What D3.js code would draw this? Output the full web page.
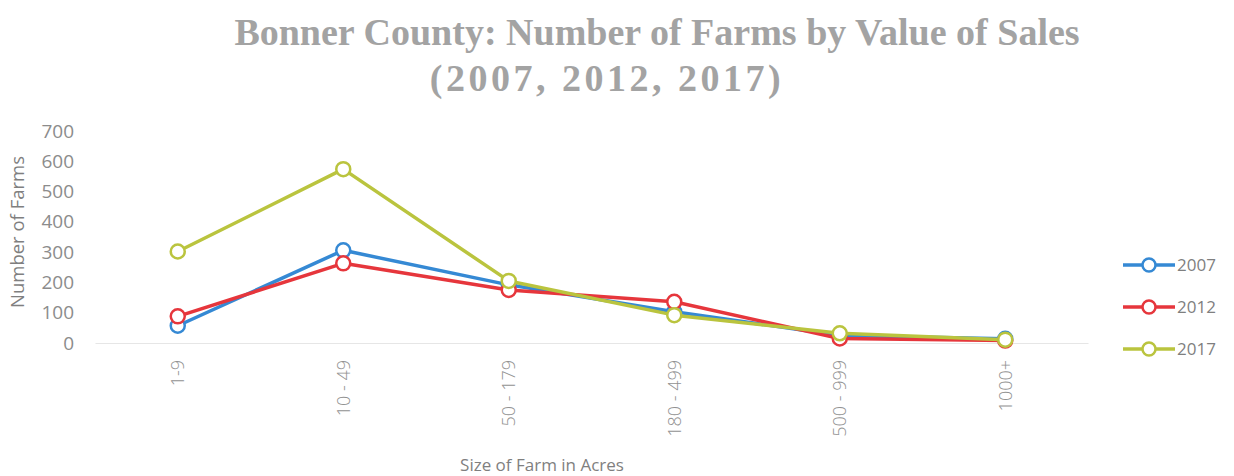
<!DOCTYPE html>
<html>
<head>
<meta charset="utf-8">
<script src="https://cdn.jsdelivr.net/npm/d3@7"></script>
<style>
  body { margin: 0; background: #fff; }
  svg { display: block; }
</style>
</head>
<body>
<script>
// Données du graphique
const categories = ["1-9", "10 - 49", "50 - 179", "180 - 499", "500 - 999", "1000+"];
const years = ["2007", "2012", "2017"];
const farms2007 = [57, 306, 192, 103, 25, 14];
const farms2012 = [88, 263, 175, 136, 15, 8];
const farms2017 = [302, 574, 205, 92, 32, 11];
const yTicks = [0, 100, 200, 300, 400, 500, 600, 700];
const colors = ["#3589d4", "#e6363c", "#bac43e"];

const series = years.map((y, i) => ({
    year: y,
    color: colors[i],
    values: [farms2007, farms2012, farms2017][i]
}));

const W = 1234, H = 476;
const margin = { top: 131, right: 146, bottom: 133, left: 95 },
      width = W - margin.left - margin.right,
      height = H - margin.top - margin.bottom;

const svg = d3.select("body").append("svg")
    .attr("width", W)
    .attr("height", H);

// Titre (deux lignes)
const title = svg.append("text")
    .attr("text-anchor", "middle")
    .attr("font-family", "'Liberation Serif', serif")
    .attr("font-weight", "bold")
    .attr("font-size", "38px")
    .attr("fill", "#a3a3a3");
title.append("tspan").attr("x", 657).attr("y", 45).text("Bonner County: Number of Farms by Value of Sales");
title.append("tspan").attr("x", 607).attr("y", 91)
    .attr("letter-spacing", "3.5px")
    .text("(2007, 2012, 2017)");

const g = svg.append("g")
    .attr("transform", `translate(${margin.left},${margin.top})`);

// Échelles
const x = d3.scaleBand()
    .domain(categories)
    .range([0, width]);

const y = d3.scaleLinear()
    .domain([0, 700])
    .range([height, 0]);

// Axe x
const xAxis = g.append("g")
    .attr("transform", `translate(0,${height})`)
    .call(d3.axisBottom(x).tickSize(0).tickPadding(0));
xAxis.select(".domain").attr("stroke", "#e6e6e6").attr("stroke-width", 1.2);
xAxis.selectAll("text")
    .attr("transform", "rotate(-90)")
    .attr("text-anchor", "end")
    .attr("x", -17)
    .attr("y", 0)
    .attr("dy", "0.35em")
    .attr("font-family", "'Open Sans', sans-serif")
    .attr("font-weight", 300)
    .attr("font-size", "18px")
    .attr("fill", "#929292");

// Axe y
const yAxis = g.append("g")
    .call(d3.axisLeft(y).tickValues(yTicks).tickSize(0).tickPadding(21));
yAxis.select(".domain").remove();
yAxis.selectAll("text")
    .attr("font-family", "'Open Sans', sans-serif")
    .attr("font-size", "19px")
    .attr("fill", "#8c8c8c");

// Titres des axes
svg.append("text")
    .attr("transform", `translate(24,232) rotate(-90)`)
    .attr("text-anchor", "middle")
    .attr("font-family", "'Open Sans', sans-serif")
    .attr("font-size", "18.5px")
    .attr("fill", "#7f7f7f")
    .text("Number of Farms");

svg.append("text")
    .attr("x", 542)
    .attr("y", 471)
    .attr("text-anchor", "middle")
    .attr("font-family", "'Open Sans', sans-serif")
    .attr("font-size", "17px")
    .attr("fill", "#7f7f7f")
    .text("Size of Farm in Acres");

// Lignes et marqueurs
const line = d3.line()
    .x((d, i) => x(categories[i]) + x.bandwidth() / 2)
    .y(d => y(d));

const layers = g.selectAll(".serie")
    .data(series)
    .enter().append("g")
    .attr("class", "serie");

layers.append("path")
    .attr("d", d => line(d.values))
    .attr("fill", "none")
    .attr("stroke", d => d.color)
    .attr("stroke-width", 3.5)
    .attr("stroke-linejoin", "round");

layers.selectAll("circle")
    .data(d => d.values.map(v => ({ v: v, color: d.color })))
    .enter().append("circle")
    .attr("cx", (d, i) => x(categories[i]) + x.bandwidth() / 2)
    .attr("cy", d => y(d.v))
    .attr("r", 7)
    .attr("fill", "#fff")
    .attr("stroke", d => d.color)
    .attr("stroke-width", 2.5);

// Légende
const legend = svg.selectAll(".legend")
    .data(series)
    .enter().append("g")
    .attr("class", "legend")
    .attr("transform", (d, i) => `translate(1123,${265 + i * 42})`);

legend.append("line")
    .attr("x1", 0).attr("x2", 52)
    .attr("stroke", d => d.color)
    .attr("stroke-width", 3.5);

legend.append("circle")
    .attr("cx", 26)
    .attr("r", 6.5)
    .attr("fill", "#fff")
    .attr("stroke", d => d.color)
    .attr("stroke-width", 2.5);

legend.append("text")
    .attr("x", 54)
    .attr("dy", "0.35em")
    .attr("font-family", "'Open Sans', sans-serif")
    .attr("font-size", "17px")
    .attr("fill", "#7f7f7f")
    .text(d => d.year);
</script>
</body>
</html>
